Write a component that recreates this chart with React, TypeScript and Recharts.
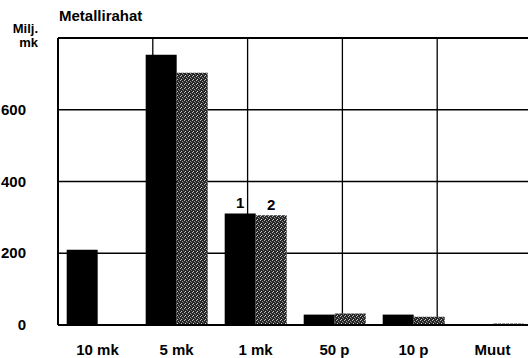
import React from 'react';
import { BarChart, Bar, XAxis, YAxis, CartesianGrid, ReferenceLine, LabelList } from 'recharts';

const categories = ['10 mk', '5 mk', '1 mk', '50 p', '10 p', 'Muut'];
const series1 = [210, 753, 311, 29, 29, 2];
const series2 = [1, 703, 306, 32, 23, 4];
const seriesTag1 = ['', '', '1', '', '', ''];
const seriesTag2 = ['', '', '2', '', '', ''];
const yTicks = [0, 200, 400, 600];
const gridTicks = [0, 1, 2, 3, 4, 5, 6];

const data = categories.map((c, i) => ({
  name: c,
  s1: series1[i],
  s2: series2[i],
  t1: seriesTag1[i],
  t2: seriesTag2[i],
}));

const FONT = '"Liberation Sans", Arial, Helvetica, sans-serif';

const XTick = (props: any) => {
  const { x, y, payload } = props;
  return (
    <text x={x} y={y + 22} textAnchor="middle" fontFamily={FONT} fontWeight="bold" fontSize={15} fill="#000">
      {payload.value}
    </text>
  );
};

const YTick = (props: any) => {
  const { x, y, payload } = props;
  return (
    <text x={x - 24} y={y + 5} textAnchor="end" fontFamily={FONT} fontWeight="bold" fontSize={15} fill="#000">
      {payload.value}
    </text>
  );
};

export default function App() {
  return (
    <div style={{ position: 'absolute', left: 0, top: 0, width: 528, height: 358, overflow: 'hidden', background: '#fff' }}>
      <div style={{ position: 'absolute', left: 59, top: 7, fontFamily: FONT, fontWeight: 'bold', fontSize: 15, lineHeight: '17px' }}>
        Metallirahat
      </div>
      <div style={{ position: 'absolute', right: 490, top: 22, fontFamily: FONT, fontWeight: 'bold', fontSize: 13, lineHeight: '13px', textAlign: 'right' }}>
        Milj.
      </div>
      <div style={{ position: 'absolute', right: 490, top: 36, fontFamily: FONT, fontWeight: 'bold', fontSize: 13, lineHeight: '13px', textAlign: 'right' }}>
        mk
      </div>
      <div style={{ position: 'absolute', left: 0, top: 0 }}>
        <BarChart
          width={532}
          height={358}
          data={data}
          margin={{ top: 38, right: 0, bottom: 3, left: 0 }}
          barCategoryGap="11%"
          barGap={0}
        >
          <defs>
            <pattern id="stip" width="4" height="4" patternUnits="userSpaceOnUse">
              <rect width="4" height="4" fill="#262626" />
              <rect x="0" y="0" width="1" height="1" fill="#bbb" />
              <rect x="2" y="1" width="1" height="1" fill="#999" />
              <rect x="1" y="3" width="1" height="1" fill="#ccc" />
              <rect x="3" y="2" width="1" height="1" fill="#777" />
            </pattern>
          </defs>
          <XAxis xAxisId="grid" type="number" domain={[0, 6]} ticks={gridTicks} hide allowDataOverflow />
          <CartesianGrid xAxisId="grid" horizontal={false} vertical stroke="#000" strokeWidth={1.3} />
          <CartesianGrid vertical={false} horizontal stroke="#000" strokeWidth={1.3} />
          <XAxis
            dataKey="name"
            height={30}
            tick={<XTick />}
            tickLine={false}
            axisLine={{ stroke: '#000', strokeWidth: 2 }}
            interval={0}
          />
          <YAxis
            width={58}
            domain={[0, 800]}
            ticks={yTicks}
            tick={<YTick />}
            tickLine={false}
            axisLine={{ stroke: '#000', strokeWidth: 2 }}
          />
          <ReferenceLine y={800} stroke="#000" strokeWidth={2} />
          <Bar dataKey="s1" fill="#000" isAnimationActive={false}>
            <LabelList dataKey="t1" position="top" offset={5} fontFamily={FONT} fontWeight="bold" fontSize={15} fill="#000" />
          </Bar>
          <Bar dataKey="s2" fill="url(#stip)" isAnimationActive={false}>
            <LabelList dataKey="t2" position="top" offset={5} fontFamily={FONT} fontWeight="bold" fontSize={15} fill="#000" />
          </Bar>
        </BarChart>
      </div>
    </div>
  );
}
